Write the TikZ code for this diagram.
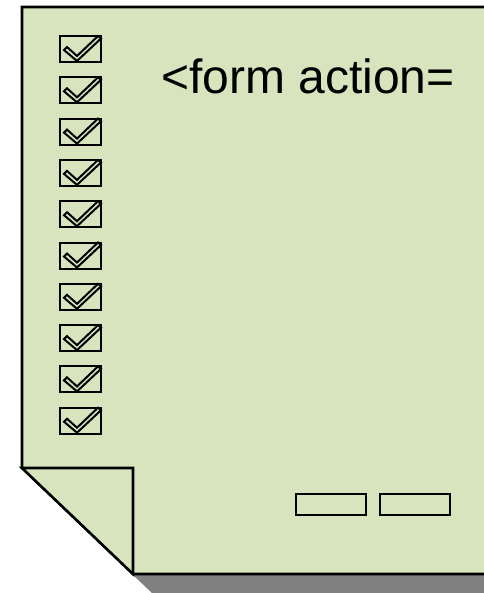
\documentclass[tikz,border=0pt]{standalone}
\usepackage{fontspec}
\setmainfont{Liberation Sans}
\usetikzlibrary{positioning}
\definecolor{pagegreen}{RGB}{215,228,189}
\definecolor{shadowgray}{RGB}{128,128,128}

\begin{document}
\begin{tikzpicture}[
  x=0.75pt, y=-0.75pt,
  page/.style={draw=black, fill=pagegreen, line width=1.9pt, line join=miter},
  tickbox/.style={draw=black, fill=pagegreen, line width=1.5pt, line join=miter},
  button/.style={draw=black, fill=pagegreen, line width=1.5pt, inner sep=0pt,
                 minimum width=52.5pt, minimum height=15.75pt}
]
\useasboundingbox (0,0) rectangle (484,593);
\clip (0,0) rectangle (484,593);
% shadow under the sheet
\fill[shadowgray] (42,27) -- (520,27) -- (520,620) -- (153,594) -- (42,488) -- cycle;
% sheet with folded corner
\draw[page] (22,7) -- (520,7) -- (520,574) -- (133,574) -- (22,468) -- cycle;
\draw[page] (22,468) -- (133,468) -- (133,574) -- cycle;
% check boxes
\foreach \k in {0,...,9}{
  \begin{scope}[shift={(60,36+41.3*\k)}]
    \draw[tickbox] (0,0) rectangle (41,26);
    \draw[tickbox] (4,14) -- (7,11) -- (17,20) -- (38,0) -- (41,2.5) -- (17,25) -- cycle;
  \end{scope}
}
\node[anchor=base west, inner sep=0pt, font=\fontsize{36pt}{42pt}\selectfont]
  (formtag) at (161,93) {<form action=};
% buttons
\node[button] (btnleft) at (331,504.5) {};
\node[button, right=9pt of btnleft] (btnright) {};
\end{tikzpicture}
\end{document}
